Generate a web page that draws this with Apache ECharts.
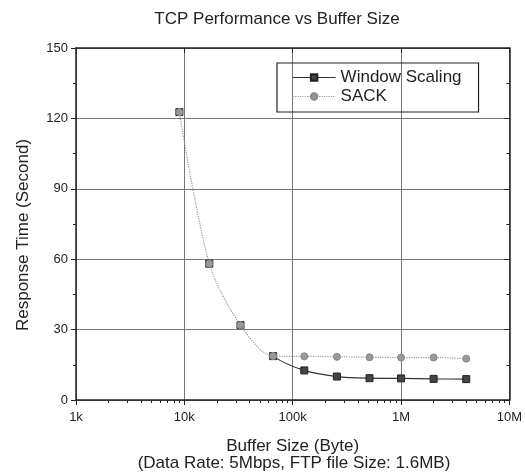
<!DOCTYPE html>
<html>
<head>
<meta charset="utf-8">
<script src="https://cdn.jsdelivr.net/npm/echarts@6/dist/echarts.min.js"></script>
<style>
  html, body { margin: 0; padding: 0; background: #fff; }
  #chart { width: 525px; height: 475px; }
</style>
</head>
<body>
<div id="chart"></div>
<script>
// ---- data ----
const bufferSizes = [9000, 17000, 33000, 66000, 128000, 256000, 512000, 1000000, 2000000, 4000000];
const windowScaling = [122.7, 58.1, 31.9, 18.7, 12.6, 10.0, 9.3, 9.2, 9.0, 8.9];
const sack = [122.7, 58.1, 31.9, 18.7, 18.6, 18.4, 18.2, 18.1, 18.1, 17.6];
const xMajorTicks = [1000, 10000, 100000, 1000000, 10000000];
const xTickLabels = ['1k', '10k', '100k', '1M', '10M'];
const yTicks = [0, 30, 60, 90, 120, 150];

const xMinorTicks = [];
for (let d = 0; d < xMajorTicks.length - 1; d++) {
  for (let m = 2; m <= 9; m++) xMinorTicks.push(xMajorTicks[d] * m);
}
const labelMap = {};
xMajorTicks.forEach((v, i) => { labelMap[v] = xTickLabels[i]; });

const FONT = 'Liberation Sans, Arial, sans-serif';
const chart = echarts.init(document.getElementById('chart'), null, { renderer: 'canvas' });

const baseX = { type: 'log', logBase: 10, min: 1000, max: 10000000, gridIndex: 0 };
const axisLine = { show: true, onZero: false, lineStyle: { color: '#222', width: 1.5 } };

chart.setOption({
  animation: false,
  backgroundColor: '#fff',
  graphic: [
    { type: 'text', x: 277, y: 19, silent: true,
      style: { text: 'TCP Performance vs Buffer Size', align: 'center', verticalAlign: 'middle',
        font: '17px ' + FONT, fill: '#222' } },
    { type: 'text', x: 294, y: 463, silent: true,
      style: { text: '(Data Rate: 5Mbps, FTP file Size: 1.6MB)', align: 'center', verticalAlign: 'middle',
        font: '17px ' + FONT, fill: '#222' } }
  ],
  grid: { left: 76, right: 13, top: 48, bottom: 75 },
  legend: {
    orient: 'vertical', left: 277, top: 63,
    itemWidth: 43, itemHeight: 8, itemGap: 2,
    padding: [6, 17, 7, 15],
    borderColor: '#222', borderWidth: 1.2,
    textStyle: { fontFamily: FONT, fontSize: 17, color: '#222' },
    data: [
      { name: 'Window Scaling', lineStyle: { color: '#333', width: 1.2 } },
      { name: 'SACK', lineStyle: { color: '#999', width: 1.2, type: 'dotted' } }
    ]
  },
  xAxis: [
    Object.assign({}, baseX, {
      position: 'bottom',
      axisLine: axisLine,
      axisTick: { show: true, inside: false, length: 5, customValues: xMajorTicks, lineStyle: { color: '#222' } },
      axisLabel: { show: true, customValues: xMajorTicks, formatter: v => labelMap[v] || '',
        fontFamily: FONT, fontSize: 13, color: '#222', margin: 11 },
      splitLine: { show: true, lineStyle: { color: '#777', width: 1 } },
      name: 'Buffer Size (Byte)', nameLocation: 'middle', nameGap: 38,
      nameTextStyle: { fontFamily: FONT, fontSize: 17, color: '#222' }
    }),
    Object.assign({}, baseX, {
      position: 'bottom',
      axisLine: { show: false },
      axisTick: { show: true, inside: false, length: 3, customValues: xMinorTicks, lineStyle: { color: '#222' } },
      axisLabel: { show: false }, splitLine: { show: false }
    }),
    Object.assign({}, baseX, {
      position: 'top',
      axisLine: axisLine,
      axisTick: { show: true, inside: true, length: 5, customValues: xMajorTicks, lineStyle: { color: '#222' } },
      axisLabel: { show: false }, splitLine: { show: false }
    }),
    Object.assign({}, baseX, {
      position: 'top',
      axisLine: { show: false },
      axisTick: { show: true, inside: true, length: 3, customValues: xMinorTicks, lineStyle: { color: '#222' } },
      axisLabel: { show: false }, splitLine: { show: false }
    })
  ],
  yAxis: [
    {
      type: 'value', min: yTicks[0], max: yTicks[yTicks.length - 1], interval: 30,
      position: 'left',
      axisLine: axisLine,
      axisTick: { show: true, inside: false, length: 5, lineStyle: { color: '#222' } },
      minorTick: { show: true, splitNumber: 2, length: 3, lineStyle: { color: '#222' } },
      axisLabel: { fontFamily: FONT, fontSize: 13, color: '#222', margin: 8 },
      splitLine: { show: true, lineStyle: { color: '#777', width: 1 } },
      name: 'Response Time (Second)', nameLocation: 'middle', nameGap: 44, nameRotate: 90,
      nameTextStyle: { fontFamily: FONT, fontSize: 17, color: '#222', padding: [0, 22, 0, 0] }
    },
    {
      type: 'value', min: yTicks[0], max: yTicks[yTicks.length - 1], interval: 30,
      position: 'right',
      axisLine: axisLine,
      axisTick: { show: true, inside: true, length: 5, lineStyle: { color: '#222' } },
      minorTick: { show: true, splitNumber: 2, length: 3, lineStyle: { color: '#222' } },
      axisLabel: { show: false },
      splitLine: { show: false }
    }
  ],
  series: [
    {
      name: 'Window Scaling', type: 'line', xAxisIndex: 0, yAxisIndex: 0,
      data: bufferSizes.map((x, i) => [x, windowScaling[i]]),
      symbol: 'rect', symbolSize: 7, smooth: 0.3,
      lineStyle: { color: '#333', width: 1.2 },
      itemStyle: { color: '#444', borderColor: '#222', borderWidth: 1 },
      z: 3
    },
    {
      name: 'SACK', type: 'line', xAxisIndex: 0, yAxisIndex: 0,
      data: bufferSizes.map((x, i) => [x, sack[i]]),
      symbol: 'circle', symbolSize: 7, smooth: 0.3,
      lineStyle: { color: '#999', width: 1.2, type: 'dotted' },
      itemStyle: { color: '#999', borderColor: '#888', borderWidth: 1 },
      z: 4
    }
  ]
});

// Window Scaling line hidden on the steep part shared with SACK (only the dotted SACK line shows there)
const splitPx = chart.convertToPixel({ xAxisIndex: 0 }, bufferSizes[3]);
const stop = splitPx / 525;
chart.setOption({
  series: [{
    name: 'Window Scaling',
    lineStyle: {
      color: {
        type: 'linear', x: 0, y: 0, x2: 525, y2: 0, global: true,
        colorStops: [
          { offset: 0, color: 'rgba(51,51,51,0)' }, { offset: stop, color: 'rgba(51,51,51,0)' },
          { offset: stop, color: '#333' }, { offset: 1, color: '#333' }
        ]
      }
    }
  }]
});
</script>
</body>
</html>
